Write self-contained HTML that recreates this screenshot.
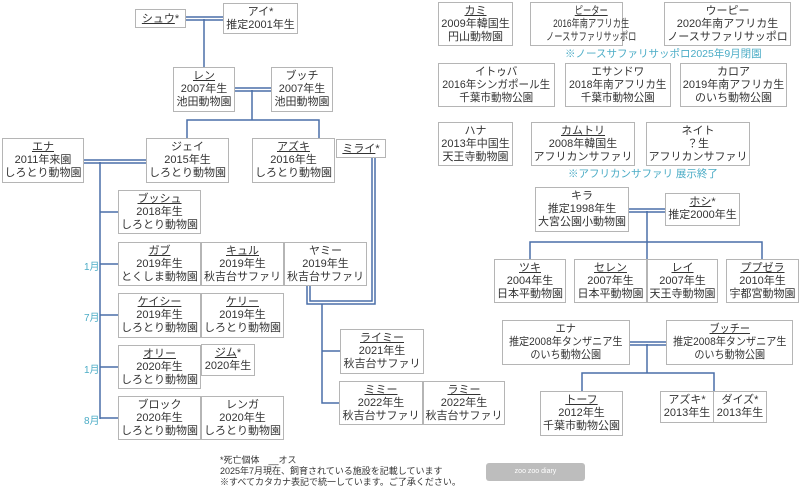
<!DOCTYPE html>
<html><head><meta charset="utf-8"><style>
body{margin:0;background:#fff;width:800px;height:494px;position:relative;overflow:hidden;font-family:"Liberation Sans","Noto Sans CJK JP",sans-serif;color:#333}
.b{position:absolute;border:1px solid #b5b5b5;background:#fff;text-align:center;font-size:11px;line-height:13px;padding-top:2px;box-sizing:border-box;white-space:nowrap}
.b u{text-decoration:underline;text-underline-offset:1px}
.s{display:inline-block;transform-origin:center top}
.n{position:absolute;font-size:10.5px;color:#4bacc6;white-space:nowrap}
.m{position:absolute;font-size:10px;color:#4bacc6}
svg{position:absolute;left:0;top:0}
</style></head><body>
<svg width="800" height="494">
<g stroke="#4a6fa8" stroke-width="1.5" fill="none">
<line x1="186" y1="17" x2="223" y2="17"/><line x1="186" y1="20" x2="223" y2="20"/>
<line x1="204" y1="19" x2="204" y2="67"/>
<line x1="235" y1="88" x2="271" y2="88"/><line x1="235" y1="91" x2="271" y2="91"/>
<polyline points="252,90 252,120"/><polyline points="187,139 187,120 319,120 319,139"/>
<line x1="84" y1="160" x2="146" y2="160"/><line x1="84" y1="163" x2="146" y2="163"/>
<line x1="100" y1="162" x2="100" y2="419"/>
<line x1="100" y1="212" x2="118" y2="212"/>
<line x1="100" y1="264" x2="118" y2="264"/>
<line x1="100" y1="315" x2="118" y2="315"/>
<line x1="100" y1="367" x2="118" y2="367"/>
<line x1="100" y1="418" x2="118" y2="418"/>
<polyline points="372,158 372,301 310,301 310,286"/>
<polyline points="375,158 375,304 307,304 307,286"/>
<polyline points="322,304 322,403 339,403"/>
<line x1="322" y1="351" x2="340" y2="351"/>
<line x1="629" y1="209" x2="665" y2="209"/><line x1="629" y1="212" x2="665" y2="212"/>
<polyline points="647,211 647,242"/>
<polyline points="530,259 530,242 762,242 762,259"/>
<line x1="647" y1="242" x2="647" y2="259"/>
<line x1="630" y1="342" x2="666" y2="342"/><line x1="630" y1="345" x2="666" y2="345"/>
<polyline points="647,344 647,373"/>
<polyline points="582,391 582,373 714,373 714,391"/>
</g></svg>

<div class="b" style="left:135px;top:9px;width:51px;height:19px;padding-top:3px"><u>シュウ</u>*</div>
<div class="b" style="left:223px;top:3px;width:75px;height:31px">アイ*<br>推定2001年生</div>
<div class="b" style="left:173px;top:67px;width:62px;height:45px"><u>レン</u><br>2007年生<br>池田動物園</div>
<div class="b" style="left:271px;top:67px;width:62px;height:45px">ブッチ<br>2007年生<br>池田動物園</div>
<div class="b" style="left:2px;top:138px;width:82px;height:45px"><u>エナ</u><br>2011年来園<br>しろとり動物園</div>
<div class="b" style="left:146px;top:138px;width:83px;height:45px">ジェイ<br>2015年生<br>しろとり動物園</div>
<div class="b" style="left:252px;top:138px;width:83px;height:45px"><u>アズキ</u><br>2016年生<br>しろとり動物園</div>
<div class="b" style="left:336px;top:139px;width:50px;height:19px;padding-top:3px"><u>ミライ</u>*</div>
<div class="b" style="left:118px;top:190px;width:83px;height:44px"><u>ブッシュ</u><br>2018年生<br>しろとり動物園</div>
<div class="b" style="left:118px;top:242px;width:83px;height:44px"><u>ガブ</u><br>2019年生<br>とくしま動物園</div>
<div class="b" style="left:201px;top:242px;width:83px;height:44px"><u>キュル</u><br>2019年生<br>秋吉台サファリ</div>
<div class="b" style="left:284px;top:242px;width:83px;height:44px">ヤミー<br>2019年生<br>秋吉台サファリ</div>
<div class="b" style="left:118px;top:293px;width:83px;height:45px"><u>ケイシー</u><br>2019年生<br>しろとり動物園</div>
<div class="b" style="left:201px;top:293px;width:83px;height:45px"><u>ケリー</u><br>2019年生<br>しろとり動物園</div>
<div class="b" style="left:118px;top:345px;width:83px;height:44px"><u>オリー</u><br>2020年生<br>しろとり動物園</div>
<div class="b" style="left:201px;top:344px;width:54px;height:32px"><u>ジム</u>*<br>2020年生</div>
<div class="b" style="left:118px;top:396px;width:83px;height:44px">ブロック<br>2020年生<br>しろとり動物園</div>
<div class="b" style="left:201px;top:396px;width:83px;height:44px">レンガ<br>2020年生<br>しろとり動物園</div>
<div class="b" style="left:340px;top:329px;width:84px;height:45px"><u>ライミー</u><br>2021年生<br>秋吉台サファリ</div>
<div class="b" style="left:339px;top:381px;width:84px;height:44px"><u>ミミー</u><br>2022年生<br>秋吉台サファリ</div>
<div class="b" style="left:423px;top:381px;width:82px;height:44px"><u>ラミー</u><br>2022年生<br>秋吉台サファリ</div>

<div class="m" style="left:84px;top:258px">1月</div>
<div class="m" style="left:84px;top:309px">7月</div>
<div class="m" style="left:84px;top:361px">1月</div>
<div class="m" style="left:84px;top:412px">8月</div>

<div style="position:absolute;left:220px;top:455px;font-size:9px;line-height:11px;color:#333;white-space:nowrap">*死亡個体　__オス<br>2025年7月現在、飼育されている施設を記載しています<br>※すべてカタカナ表記で統一しています。ご了承ください。</div>
<div style="position:absolute;left:486px;top:463px;width:99px;height:18px;background:#bdbdbd;border-radius:3px;color:#fff;font-size:7px;line-height:18px;text-align:center">zoo zoo diary</div>

<div class="b" style="left:438px;top:2px;width:75px;height:44px"><u>カミ</u><br>2009年韓国生<br>円山動物園</div>
<div class="b" style="left:530px;top:2px;width:93px;height:44px"><span class="s" style="transform:scaleX(0.75)"><u>ピーター</u><br>2016年南アフリカ生<br>ノースサファリサッポロ</span></div>
<div class="b" style="left:664px;top:2px;width:127px;height:44px">ウーピー<br>2020年南アフリカ生<br>ノースサファリサッポロ</div>
<div class="n" style="left:565px;top:46px">※ノースサファリサッポロ2025年9月閉園</div>
<div class="b" style="left:438px;top:63px;width:117px;height:44px"><span class="s" style="transform:scaleX(0.96)">イトゥバ<br>2016年シンガポール生<br>千葉市動物公園</span></div>
<div class="b" style="left:565px;top:63px;width:106px;height:44px"><span class="s" style="transform:scaleX(0.96)">エサンドワ<br>2018年南アフリカ生<br>千葉市動物公園</span></div>
<div class="b" style="left:680px;top:63px;width:107px;height:44px">カロア<br>2019年南アフリカ生<br>のいち動物公園</div>
<div class="b" style="left:438px;top:122px;width:75px;height:44px">ハナ<br>2013年中国生<br>天王寺動物園</div>
<div class="b" style="left:531px;top:122px;width:104px;height:44px"><u>カムトリ</u><br>2008年韓国生<br>アフリカンサファリ</div>
<div class="b" style="left:646px;top:122px;width:104px;height:44px">ネイト<br>？生<br>アフリカンサファリ</div>
<div class="n" style="left:568px;top:166px">※アフリカンサファリ 展示終了</div>
<div class="b" style="left:535px;top:187px;width:94px;height:45px">キラ<br>推定1998年生<br>大宮公園小動物園</div>
<div class="b" style="left:665px;top:193px;width:75px;height:33px"><u>ホシ</u>*<br>推定2000年生</div>
<div class="b" style="left:494px;top:259px;width:72px;height:44px"><u>ツキ</u><br>2004年生<br>日本平動物園</div>
<div class="b" style="left:574px;top:259px;width:73px;height:44px"><u>セレン</u><br>2007年生<br>日本平動物園</div>
<div class="b" style="left:647px;top:259px;width:71px;height:44px"><u>レイ</u><br>2007年生<br>天王寺動物園</div>
<div class="b" style="left:726px;top:259px;width:73px;height:44px"><u>ププゼラ</u><br>2010年生<br>宇都宮動物園</div>
<div class="b" style="left:502px;top:320px;width:128px;height:45px"><span class="s" style="transform:scaleX(0.92)">エナ<br>推定2008年タンザニア生<br>のいち動物公園</span></div>
<div class="b" style="left:666px;top:320px;width:127px;height:45px"><span class="s" style="transform:scaleX(0.92)"><u>ブッチー</u><br>推定2008年タンザニア生<br>のいち動物公園</span></div>
<div class="b" style="left:540px;top:391px;width:83px;height:45px"><u>トーフ</u><br>2012年生<br>千葉市動物公園</div>
<div class="b" style="left:660px;top:391px;width:54px;height:32px">アズキ*<br>2013年生</div>
<div class="b" style="left:713px;top:391px;width:54px;height:32px">ダイズ*<br>2013年生</div>
</body></html>
